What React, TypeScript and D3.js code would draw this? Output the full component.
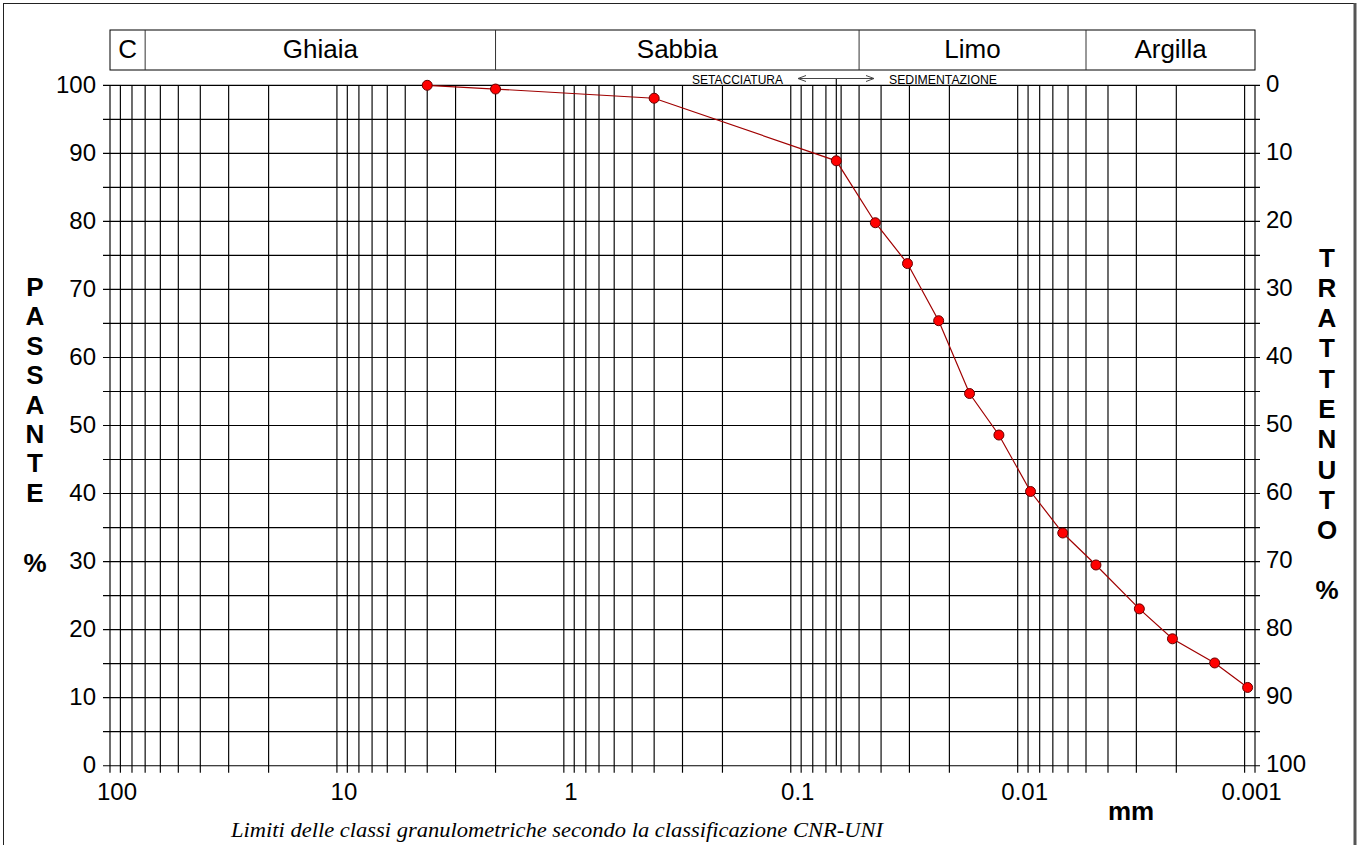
import React from "react";
import * as d3 from "d3";

// curva granulometrica: diametro (mm) / passante (%)
const diametri = [4, 2, 0.4, 0.063, 0.0424, 0.0306, 0.0223, 0.0163, 0.0121, 0.00878, 0.00633, 0.00452, 0.00291, 0.00208, 0.001355, 0.00097];
const passante = [100, 99.45, 98.1, 88.9, 79.8, 73.8, 65.4, 54.7, 48.6, 40.3, 34.2, 29.5, 23.05, 18.65, 15.1, 11.5];

// classi CNR-UNI
const classi = ["C", "Ghiaia", "Sabbia", "Limo", "Argilla"];
const limitiClassi = [100, 70, 2, 0.05, 0.005, 0.0009];

const xTickValues = [100, 10, 1, 0.1, 0.01, 0.001];
const xTickLabels = ["100", "10", "1", "0.1", "0.01", "0.001"];
const limiteSedimentazione = 0.063;

const leftTitle = ["P", "A", "S", "S", "A", "N", "T", "E"];
const rightTitle = ["T", "R", "A", "T", "T", "E", "N", "U", "T", "O"];

const W = 1361;
const H = 845;
const FONT = "'Liberation Sans', Arial, sans-serif";

export default function App() {
  const x = d3.scaleLog().domain([100, 0.0009]).range([110, 1255]);
  const y = d3.scaleLinear().domain([0, 100]).range([765.7, 85.3]);

  const gridX = x.ticks();
  const gridY = y.ticks(20);
  const labelY = y.ticks(10);

  const pts = diametri.map((d, i) => [x(d), y(passante[i])] as [number, number]);
  const linePath = d3.line()(pts) || "";

  const top = y(100);
  const bottom = y(0);

  return (
    <svg width={W} height={H} style={{ position: "absolute", left: 0, top: 0, background: "#fff" }}>
      {/* cornice */}
      <line x1={3.5} y1={3} x2={3.5} y2={H} stroke="#222" />
      <line x1={3} y1={3.5} x2={1356} y2={3.5} stroke="#222" />
      <line x1={1355} y1={3} x2={1355} y2={H} stroke="#555" strokeWidth={3} />

      {/* intestazione classi */}
      <rect x={x(100)} y={30} width={x(0.0009) - x(100)} height={40} fill="none" stroke="#000" />
      {classi.map((c, i) => {
        const a = x(limitiClassi[i]);
        const b = x(limitiClassi[i + 1]);
        return (
          <g key={c}>
            {i > 0 && <line x1={a} x2={a} y1={30} y2={70} stroke="#333" />}
            <text x={(a + b) / 2} y={58} textAnchor="middle" fontFamily={FONT} fontSize={26}>{c}</text>
          </g>
        );
      })}

      {/* griglia */}
      <g stroke="#000" strokeWidth={1.15}>
        {gridY.map((v) => (
          <line key={"h" + v} x1={103} x2={1260} y1={y(v)} y2={y(v)} />
        ))}
        {gridX.map((v) => (
          <line key={"v" + v} x1={x(v)} x2={x(v)} y1={top} y2={bottom + 7} />
        ))}
        <line x1={x(limiteSedimentazione)} x2={x(limiteSedimentazione)} y1={78} y2={bottom} />
      </g>

      {/* setacciatura / sedimentazione */}
      <text x={692} y={84} fontFamily={FONT} fontSize={13.5} textLength={91} lengthAdjust="spacingAndGlyphs">SETACCIATURA</text>
      <text x={889} y={84} fontFamily={FONT} fontSize={13.5} textLength={108} lengthAdjust="spacingAndGlyphs">SEDIMENTAZIONE</text>
      <g stroke="#444" fill="none">
        <line x1={798} x2={874} y1={78.5} y2={78.5} />
        <polyline points="806,75.5 798,78.5 806,81.5" />
        <polyline points="866,75.5 874,78.5 866,81.5" />
      </g>

      {/* assi etichette */}
      {labelY.map((v) => (
        <text key={"l" + v} x={96} y={y(v) - 1} textAnchor="end" dominantBaseline="central" fontFamily={FONT} fontSize={24}>{v}</text>
      ))}
      {labelY.map((v) => (
        <text key={"r" + v} x={1266} y={y(v) - 2} textAnchor="start" dominantBaseline="central" fontFamily={FONT} fontSize={24}>{100 - v}</text>
      ))}
      {xTickValues.map((v, i) => (
        <text key={"x" + v} x={x(v) + 7} y={800} textAnchor="middle" fontFamily={FONT} fontSize={24}>{xTickLabels[i]}</text>
      ))}

      {/* titoli verticali */}
      {leftTitle.map((c, i) => (
        <text key={"p" + i} x={35} y={287 + i * 29.4} textAnchor="middle" dominantBaseline="central" fontFamily={FONT} fontWeight="bold" fontSize={26}>{c}</text>
      ))}
      <text x={35} y={563} textAnchor="middle" dominantBaseline="central" fontFamily={FONT} fontWeight="bold" fontSize={26}>%</text>
      {rightTitle.map((c, i) => (
        <text key={"t" + i} x={1327} y={257.5 + i * 30.3} textAnchor="middle" dominantBaseline="central" fontFamily={FONT} fontWeight="bold" fontSize={26}>{c}</text>
      ))}
      <text x={1327} y={590} textAnchor="middle" dominantBaseline="central" fontFamily={FONT} fontWeight="bold" fontSize={26}>%</text>

      <text x={1131} y={820} textAnchor="middle" fontFamily={FONT} fontWeight="bold" fontSize={26}>mm</text>
      <text x={557} y={837} textAnchor="middle" fontFamily="'Liberation Serif', 'Times New Roman', serif" fontStyle="italic" fontSize={20} textLength={652} lengthAdjust="spacingAndGlyphs">
        Limiti delle classi granulometriche secondo la classificazione CNR-UNI
      </text>

      {/* curva */}
      <path d={linePath} fill="none" stroke="#a00000" strokeWidth={1.2} />
      {pts.map((p, i) => (
        <circle key={"c" + i} cx={p[0]} cy={p[1]} r={5} fill="#ff0000" stroke="#600" strokeWidth={1} />
      ))}
    </svg>
  );
}
